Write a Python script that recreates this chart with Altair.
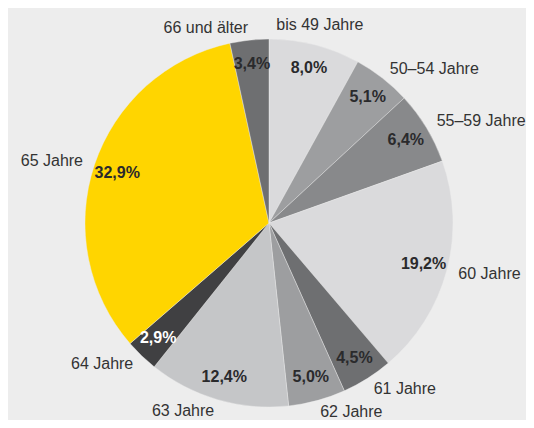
import altair as alt
import pandas as pd

categories = ["bis 49 Jahre", "50–54 Jahre", "55–59 Jahre", "60 Jahre", "61 Jahre",
              "62 Jahre", "63 Jahre", "64 Jahre", "65 Jahre", "66 und älter"]
values = [8.0, 5.1, 6.4, 19.2, 4.5, 5.0, 12.4, 2.9, 32.9, 3.4]
pct_labels = ["8,0%", "5,1%", "6,4%", "19,2%", "4,5%", "5,0%", "12,4%", "2,9%", "32,9%", "3,4%"]
colors = ["#dadadc", "#9d9ea0", "#88898b", "#dadadc", "#6e6f71",
          "#9d9ea0", "#c5c6c8", "#404042", "#ffd500", "#6e6f71"]
text_colors = ["#2a2a2c"] * 7 + ["#ffffff"] + ["#2a2a2c"] * 2

df = pd.DataFrame({
    "idx": list(range(len(categories))),
    "category": categories,
    "value": values,
    "pct": pct_labels,
    "tcolor": text_colors,
})

FONT = "Liberation Sans"
CX, CY = 261, 215

base = alt.Chart(df).transform_window(
    cum="sum(value)", sort=[{"field": "idx"}]
).transform_joinaggregate(
    total="sum(value)"
).transform_calculate(
    midf="(datum.cum - datum.value / 2) / datum.total",
    lab_c="datum.midf < 0.06 ? datum.category : ''",
    lab_l="datum.midf >= 0.06 && datum.midf < 0.5 ? datum.category : ''",
    lab_r="datum.midf >= 0.5 ? datum.category : ''",
).encode(
    theta=alt.Theta("value:Q", stack=True),
    order=alt.Order("idx:Q", sort="ascending"),
    x=alt.value(CX),
    y=alt.value(CY),
)

arcs = base.mark_arc(outerRadius=184, stroke="#ededed", strokeWidth=0.4).encode(
    color=alt.Color("category:N", scale=alt.Scale(domain=categories, range=colors), legend=None)
)

pct = base.mark_text(radius=160, font=FONT, fontSize=16, fontWeight="bold",
                     align="center", baseline="middle").encode(
    text="pct:N",
    color=alt.Color("tcolor:N", scale=None),
)

cat_style = dict(font=FONT, fontSize=16, baseline="middle", color="#333333")
lab_c = base.mark_text(align="center", radius=204, **cat_style).encode(text="lab_c:N")
lab_l = base.mark_text(align="left", radius=196, **cat_style).encode(text="lab_l:N")
lab_r = base.mark_text(align="right", radius=196, **cat_style).encode(text="lab_r:N")

chart = alt.layer(arcs, pct, lab_c, lab_l, lab_r).properties(
    width=518, height=412,
    autosize=alt.AutoSizeParams(type="none"),
    padding=0,
    background="#ededed",
).configure_view(stroke=None)

chart.save("out.html", embed_options={"renderer": "svg", "actions": False})
